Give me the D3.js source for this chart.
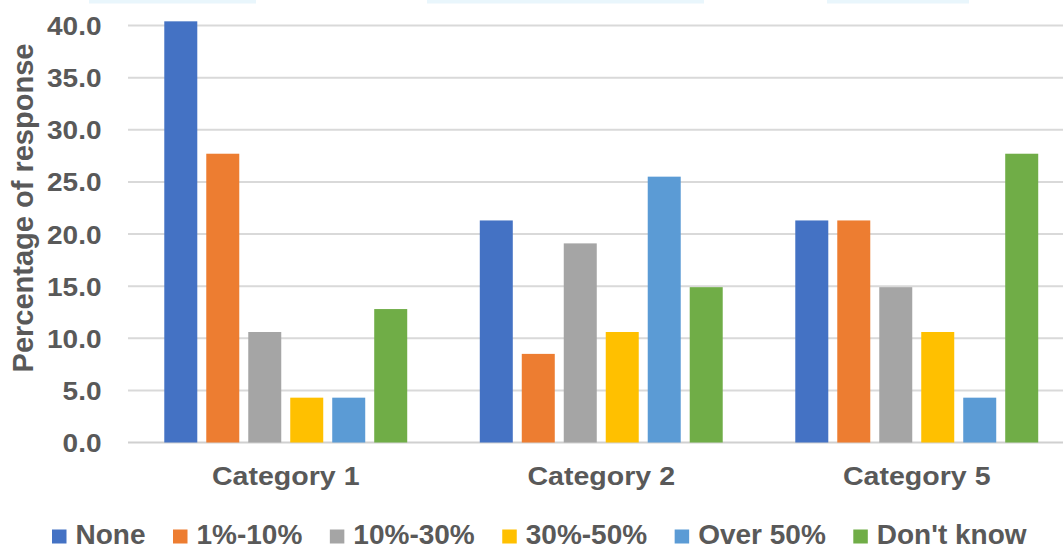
<!DOCTYPE html>
<html>
<head>
<meta charset="utf-8">
<script src="https://cdn.jsdelivr.net/npm/d3@7"></script>
<style>
  html, body { margin: 0; padding: 0; background: #ffffff; }
  svg { display: block; }
  text { font-family: "Liberation Sans", Arial, sans-serif; font-weight: bold; fill: #595959; }
</style>
</head>
<body>
<svg id="chart" width="1063" height="549"></svg>
<script>
// Categories along the x axis
const categories = ["Category 1", "Category 2", "Category 5"];

// Response bands (one bar per band in each category)
const seriesNames = ["None", "1%-10%", "10%-30%", "30%-50%", "Over 50%", "Don't know"];
const seriesColors = ["#4472C4", "#ED7D31", "#A5A5A5", "#FFC000", "#5B9BD5", "#70AD47"];

// Percentage of response, one array per band, ordered as the categories
const noneValues      = [40.4, 21.3, 21.3];
const oneToTenValues  = [27.7,  8.5, 21.3];
const tenToThirty     = [10.6, 19.1, 14.9];
const thirtyToFifty   = [ 4.3, 10.6, 10.6];
const overFiftyValues = [ 4.3, 25.5,  4.3];
const dontKnowValues  = [12.8, 14.9, 27.7];

// Y axis tick values
const yTicks = [0, 5, 10, 15, 20, 25, 30, 35, 40];

const seriesValues = [noneValues, oneToTenValues, tenToThirty, thirtyToFifty, overFiftyValues, dontKnowValues];

const svg = d3.select("#chart");

// Layout
const plotLeft = 128, plotRight = 1074.5, plotTop = 25.5, plotBottom = 442.5;

const x0 = d3.scaleBand().domain(categories).range([plotLeft, plotRight]).paddingInner(0).paddingOuter(0);
const groupPad = x0.bandwidth() * 0.115;
const x1 = d3.scaleBand().domain(seriesNames)
  .range([groupPad, x0.bandwidth() - groupPad])
  .paddingInner(0.214).paddingOuter(0);
const y = d3.scaleLinear().domain([0, 40]).range([plotBottom, plotTop]);

// Faint strip along the top edge
const topStrips = [[89, 256], [427, 704], [827, 969]];
svg.append("g").selectAll("rect").data(topStrips).join("rect")
  .attr("x", d => d[0]).attr("y", 0)
  .attr("width", d => d[1] - d[0]).attr("height", 3.5)
  .attr("fill", "#e9f6fc");

// Horizontal gridlines
svg.append("g").selectAll("line").data(yTicks).join("line")
  .attr("x1", plotLeft).attr("x2", 1063)
  .attr("y1", d => y(d)).attr("y2", d => y(d))
  .attr("stroke", d => d === 0 ? "#d0d0d0" : "#d9d9d9")
  .attr("stroke-width", 2);

// Bars
const groups = svg.append("g").selectAll("g").data(categories).join("g")
  .attr("transform", d => `translate(${x0(d)},0)`);

groups.selectAll("rect")
  .data((cat, ci) => seriesNames.map((s, si) => ({ s, si, v: seriesValues[si][ci] })))
  .join("rect")
  .attr("x", d => x1(d.s))
  .attr("width", x1.bandwidth())
  .attr("y", d => y(d.v))
  .attr("height", d => y(0) - y(d.v))
  .attr("fill", d => seriesColors[d.si]);

// Y axis tick labels
const stretch = 1.12;
const yAxis = d3.axisLeft(y).tickValues(yTicks).tickFormat(d3.format(".1f")).tickSize(0).tickPadding(0);
const yg = svg.append("g").attr("transform", `translate(${plotLeft},0)`).call(yAxis);
yg.select(".domain").remove();
yg.selectAll("text")
  .attr("x", -26.5 / stretch)
  .attr("dy", "0.36em")
  .attr("transform", `scale(${stretch},1)`)
  .style("font-size", "25px")
  .style("font-family", "'Liberation Sans', Arial, sans-serif")
  .style("font-weight", "bold")
  .attr("fill", "#595959");

// Category labels
const xAxis = d3.axisBottom(x0).tickSize(0).tickPadding(0);
const xg = svg.append("g").attr("transform", `translate(0,${plotBottom})`).call(xAxis);
xg.select(".domain").remove();
xg.selectAll(".tick text")
  .attr("y", 0).attr("dy", 0)
  .each(function() {
    const t = d3.select(this);
    t.attr("transform", `translate(0,42.5) scale(${stretch},1)`);
  })
  .style("font-size", "25.5px")
  .style("font-family", "'Liberation Sans', Arial, sans-serif")
  .style("font-weight", "bold")
  .attr("fill", "#595959");

// Y axis title
svg.append("text")
  .attr("transform", "translate(33,208) rotate(-90)")
  .attr("text-anchor", "middle")
  .style("font-size", "29px")
  .text("Percentage of response");

// Legend
const legend = svg.append("g");
let lx = 52;
seriesNames.forEach((name, i) => {
  legend.append("rect")
    .attr("x", lx).attr("y", 529.5)
    .attr("width", 14.5).attr("height", 14)
    .attr("fill", seriesColors[i]);
  const t = legend.append("text")
    .attr("x", lx + 23.5).attr("y", 544.3)
    .style("font-size", "28px")
    .text(name);
  lx = lx + 23.5 + t.node().getComputedTextLength() + 27.5;
});
</script>
</body>
</html>
